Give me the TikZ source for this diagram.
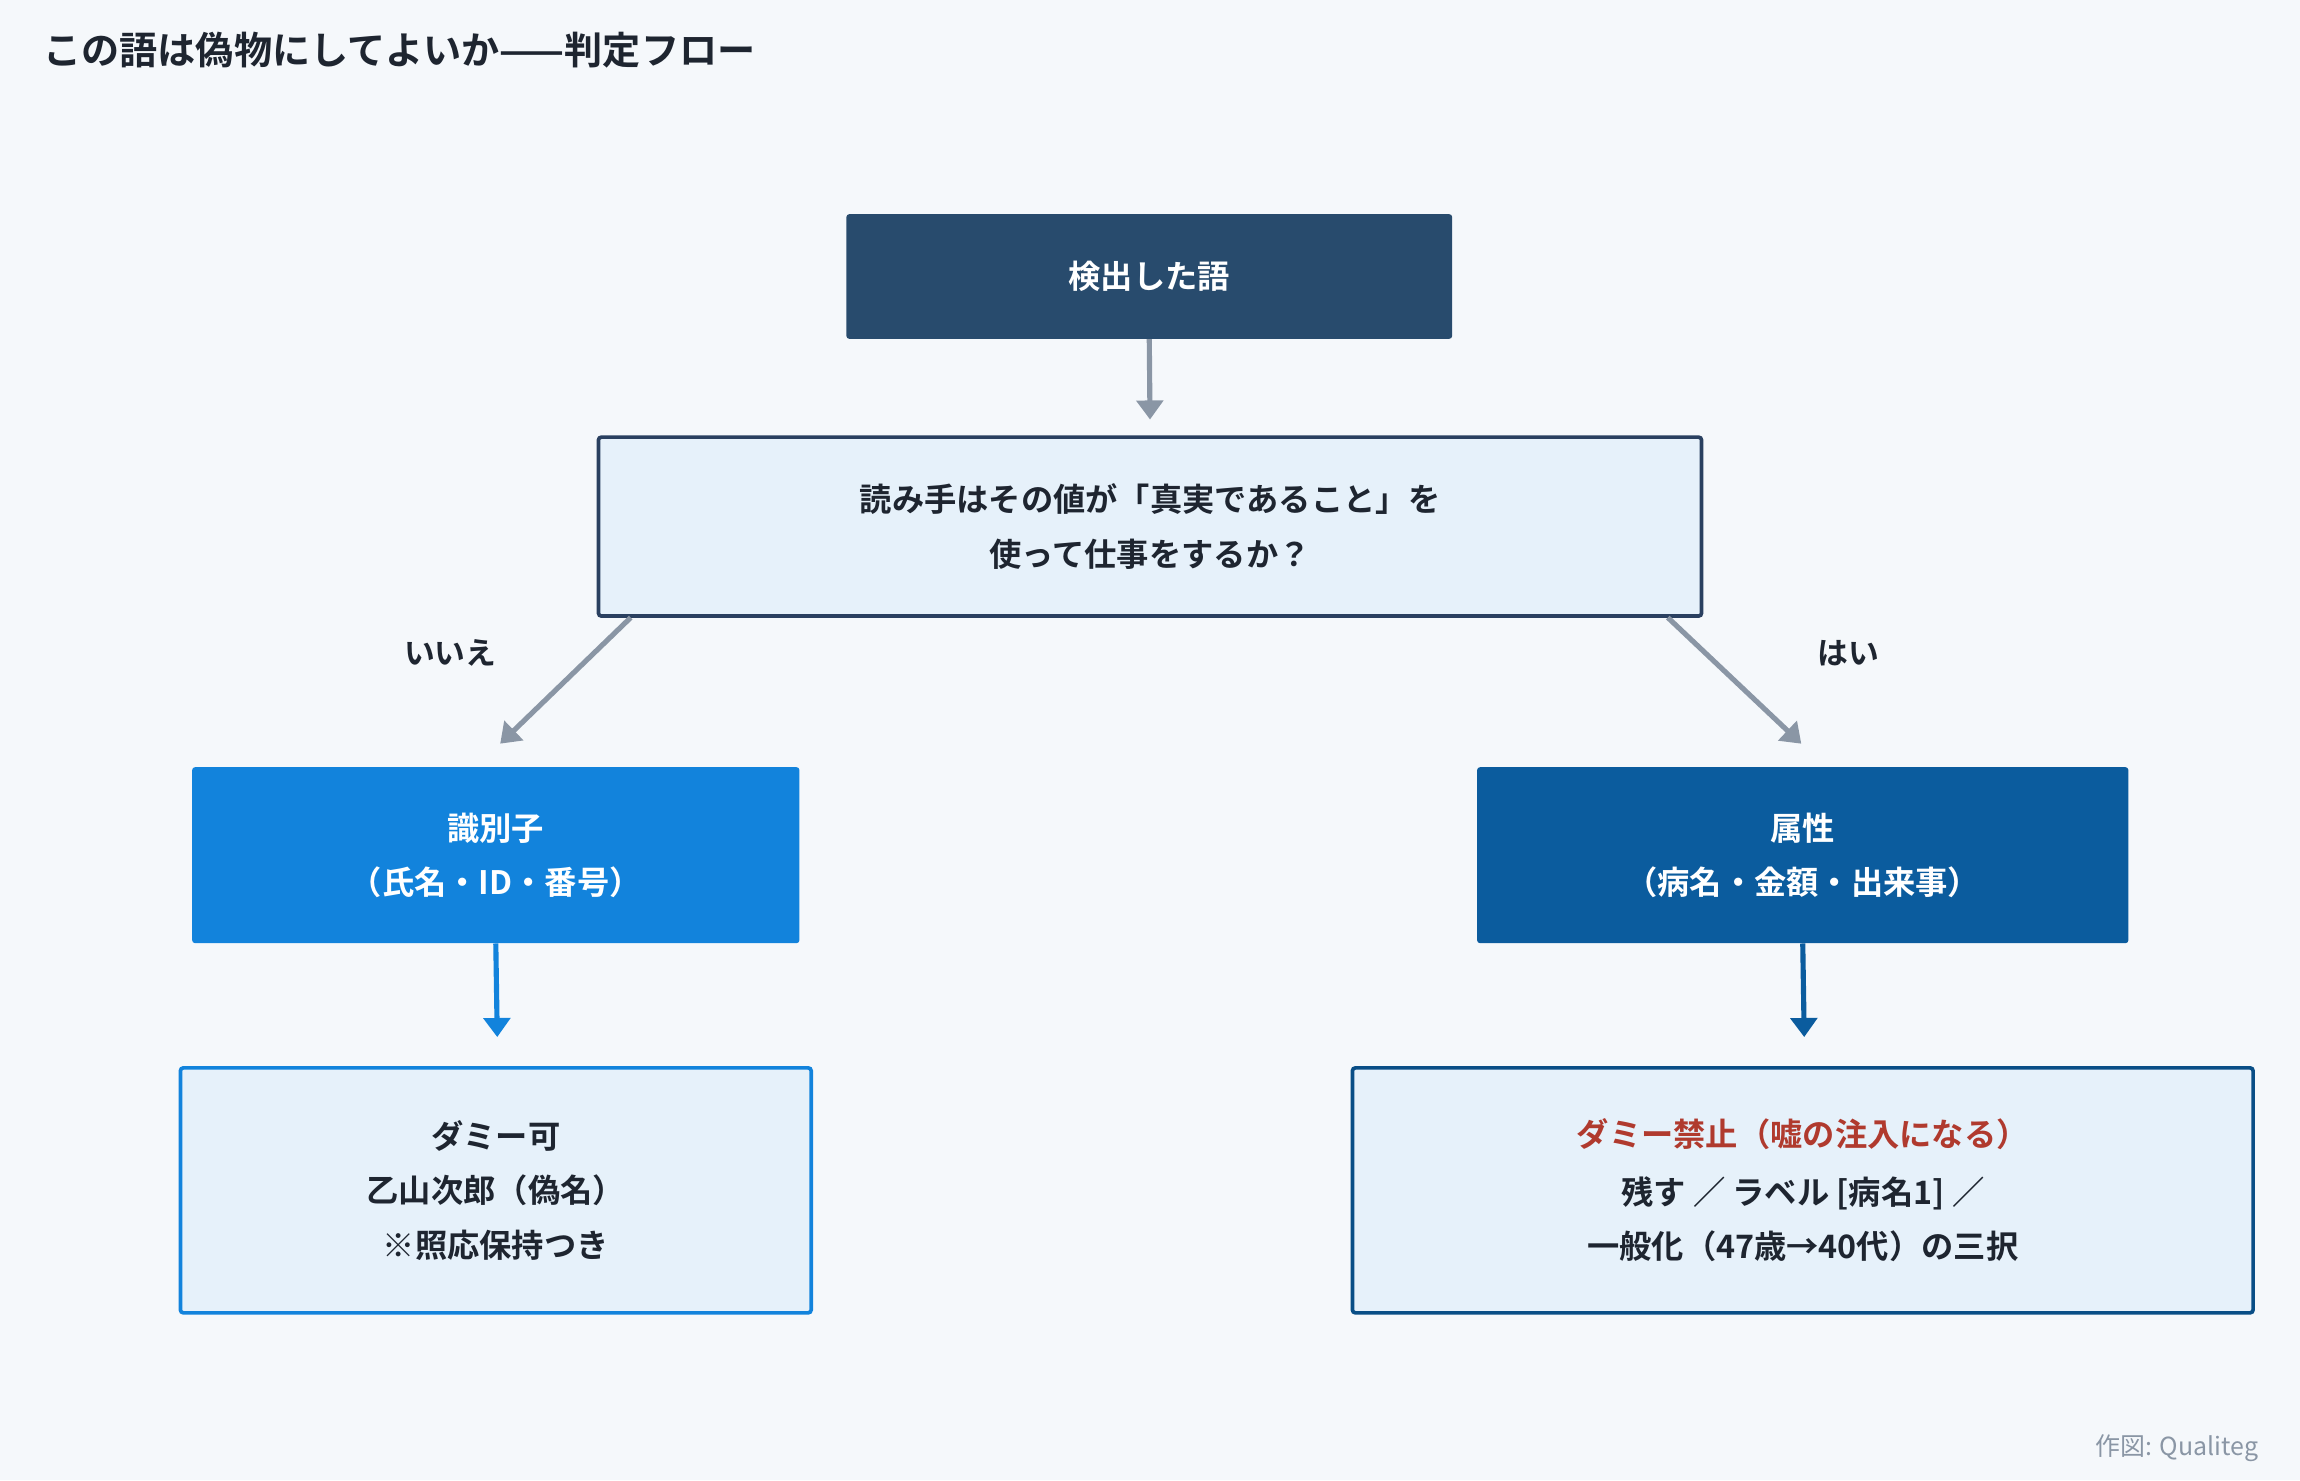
\documentclass[tikz,border=0pt]{standalone}
\usepackage{fontspec}
\setmainfont{Noto Sans CJK JP}[BoldFont={Noto Sans CJK JP Bold}]
\usetikzlibrary{arrows.meta}
\definecolor{bg}{HTML}{F5F8FB}
\definecolor{navy}{HTML}{284B6D}
\definecolor{pale}{HTML}{E6F1FA}
\definecolor{qborder}{HTML}{2A4060}
\definecolor{blueA}{HTML}{1283DC}
\definecolor{blueB}{HTML}{0B5C9E}
\definecolor{gr}{HTML}{8A96A5}
\definecolor{redt}{HTML}{B03A2E}
\definecolor{ink}{HTML}{1E2530}
\begin{document}
\begin{tikzpicture}[x=1pt,y=-1pt,
  box/.style={rounded corners=2pt,align=center,font=\fontsize{22}{37}\selectfont\bfseries,inner sep=0pt},
  garr/.style={draw=gr,line width=3.5pt,-{Triangle[length=13pt,width=18pt]}},
  barr/.style={line width=3.5pt,-{Triangle[length=13pt,width=18pt]}},
  lab/.style={font=\fontsize{21}{24}\selectfont\bfseries,text=ink}]
\fill[bg] (0,0) rectangle (1568,1009);
\useasboundingbox (0,0) rectangle (1568,1009);
\node[anchor=west,font=\fontsize{26}{30}\selectfont\bfseries,text=ink] (title) at (26,34) {この語は偽物にしてよいか——判定フロー};
\node[box,fill=navy,text=white,minimum width=413pt,minimum height=85pt] (top) at (783.5,188.5) {検出した語};
\node[box,fill=pale,draw=qborder,line width=2.5pt,text=ink,minimum width=752pt,minimum height=122pt] (q) at (784,359) {読み手はその値が「真実であること」を\\使って仕事をするか？};
\node[box,fill=blueA,text=white,minimum width=414pt,minimum height=120pt] (l) at (338,583) {識別子\\（氏名・ID・番号）};
\node[box,fill=blueB,text=white,minimum width=444pt,minimum height=120pt] (r) at (1229,583) {属性\\（病名・金額・出来事）};
\node[box,fill=pale,draw=blueA,line width=2.5pt,text=ink,minimum width=430pt,minimum height=167pt] (bl) at (338,811.5) {ダミー可\\乙山次郎（偽名）\\※照応保持つき};
\node[box,fill=pale,draw=blueB!85!black,line width=2.5pt,text=ink,minimum width=614pt,minimum height=167pt] (br) at (1229,811.5) {\textcolor{redt}{ダミー禁止（嘘の注入になる）}\\[2pt]残す ／ ラベル [病名1] ／\\一般化（47歳→40代）の三択};
\coordinate (a1) at (784,286);
\coordinate (a2s) at (430,421); \coordinate (a2e) at (341,507);
\coordinate (a3s) at (1137,421); \coordinate (a3e) at (1228,507);
\coordinate (a4) at (339,707); \coordinate (a5) at (1230,707);
\draw[garr] (top.south) -- (a1);
\draw[garr] (a2s) -- (a2e);
\draw[garr] (a3s) -- (a3e);
\draw[barr,draw=blueA,color=blueA] (l.south) -- (a4);
\draw[barr,draw=blueB,color=blueB] (r.south) -- (a5);
\node[lab] (no) at (307,445) {いいえ};
\node[lab] (yes) at (1260,445) {はい};
\node[anchor=east,font=\fontsize{17}{20}\selectfont,text=gr] (cr) at (1543,987) {作図: Qualiteg};
\end{tikzpicture}
\end{document}
